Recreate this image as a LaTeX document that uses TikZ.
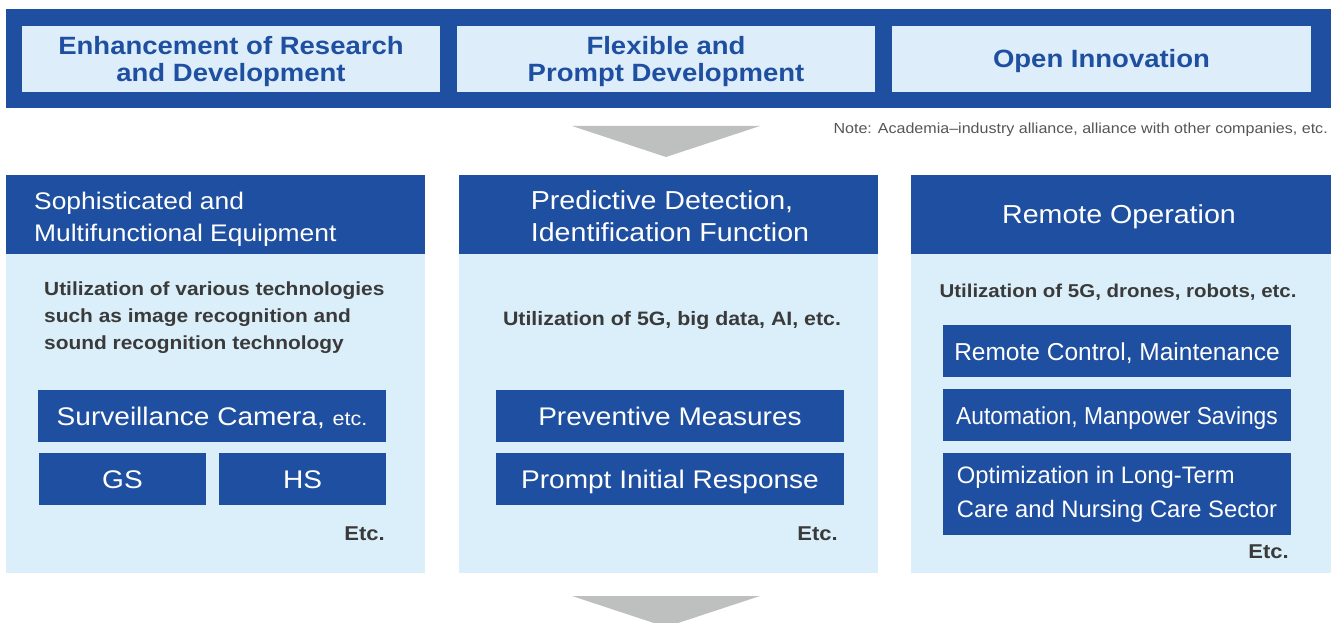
\documentclass[tikz,border=0pt]{standalone}
\usepackage{fontspec}
\setmainfont{Liberation Sans}[FakeStretch=1.1]
\newfontfamily\plainsans{Liberation Sans}
\newfontfamily\condsans{Liberation Sans}[FakeStretch=0.93]
\definecolor{dblue}{HTML}{1F4FA0}
\definecolor{lblue}{HTML}{DAEFFA}
\definecolor{tlight}{HTML}{DDEEFA}
\definecolor{agray}{HTML}{BEBFBF}
\definecolor{tgray}{HTML}{3A3A3A}
\definecolor{ngray}{HTML}{555555}
\begin{document}
\begin{tikzpicture}[x=1pt,y=-1pt,
  rectnode/.style={inner sep=0pt, outer sep=0pt, anchor=north west, draw=none},
  titlebox/.style={rectnode, fill=tlight},
  titletxt/.style={inner sep=0pt, text=dblue, align=center,
    font=\bfseries\fontsize{25}{27}\selectfont},
  panel/.style={rectnode, fill=lblue},
  head/.style={rectnode, fill=dblue},
  headtxt/.style={inner sep=0pt, text=white, font=\fontsize{26}{32}\selectfont},
  bodytxt/.style={inner sep=0pt, text=tgray, font=\bfseries\fontsize{19}{27}\selectfont},
  itembox/.style={rectnode, fill=dblue, text=white, align=center,
    font=\fontsize{25.5}{33}\selectfont},
  oneline/.style={text height=18.5pt, text depth=0pt},
  ritembox/.style={itembox, font=\plainsans\fontsize{24.5}{34}\selectfont},
  etctxt/.style={inner sep=0pt, text=tgray, anchor=base east, font=\bfseries\fontsize{20}{22}\selectfont},
  arrowfill/.style={fill=agray}
]
\useasboundingbox (0,0) rectangle (1338,623);
% top band
\node[head, minimum width=1325pt, minimum height=99pt] (band) at (6,9) {};
\node[titlebox, minimum width=418pt, minimum height=66pt] (t1) at (22,26) {};
\node[titlebox, minimum width=418pt, minimum height=66pt] (t2) at (457,26) {};
\node[titlebox, minimum width=419pt, minimum height=66pt] (t3) at (892,26) {};
\node[titletxt] (t1t) at ([yshift=-2.5pt]t1.center) {Enhancement of Research\\and Development};
\node[titletxt] (t2t) at ([yshift=-2.5pt]t2.center) {Flexible and\\Prompt Development};
\node[titletxt] (t3t) at ([yshift=-2pt]t3.center) {Open Innovation};
% arrow and note
\fill[arrowfill] (572,126) -- (760,126) -- (666,157) -- cycle;
\node[inner sep=0pt, anchor=base east, text=ngray, font=\fontsize{14.6}{16}\selectfont] (note) at (1328,134) {Note: Academia–industry alliance, alliance with other companies, etc.};
% panels
\node[panel, minimum width=419pt, minimum height=398pt] (p1) at (6,175) {};
\node[panel, minimum width=419pt, minimum height=398pt] (p2) at (459,175) {};
\node[panel, minimum width=420pt, minimum height=398pt] (p3) at (911,175) {};
\node[head, minimum width=419pt, minimum height=79pt] (h1) at (6,175) {};
\node[head, minimum width=419pt, minimum height=79pt] (h2) at (459,175) {};
\node[head, minimum width=420pt, minimum height=79pt] (h3) at (911,175) {};
\node[headtxt, anchor=west, align=left, font=\fontsize{24}{32}\selectfont] (h1t) at (34,219) {Sophisticated and\\Multifunctional Equipment};
\node[headtxt, anchor=center, align=left] (h2t) at (670,216) {Predictive Detection,\\Identification Function};
\node[headtxt, anchor=center] (h3t) at (1119,217) {Remote Operation};
% body texts
\node[bodytxt, anchor=west, align=left] (b1) at (44,318) {Utilization of various technologies\\such as image recognition and\\sound recognition technology};
\node[bodytxt, anchor=base, font=\bfseries\fontsize{19.4}{27}\selectfont] (b2) at (672,325) {Utilization of 5G, big data, AI, etc.};
\node[bodytxt, anchor=base, font=\bfseries\fontsize{18.6}{27}\selectfont] (b3) at (1118,297) {Utilization of 5G, drones, robots, etc.};
% left boxes
\node[itembox, oneline, minimum width=348pt, minimum height=52pt] (sc) at (38,390) {Surveillance Camera, {\fontsize{19.5}{22}\selectfont etc.}};
\node[itembox, oneline, minimum width=167pt, minimum height=52pt] (gs) at (39,453) {GS};
\node[itembox, oneline, minimum width=167pt, minimum height=52pt] (hs) at (219,453) {HS};
\node[etctxt] (e1) at (385,540) {Etc.};
% middle boxes
\node[itembox, oneline, minimum width=348pt, minimum height=52pt] (pm) at (496,390) {Preventive Measures};
\node[itembox, oneline, minimum width=348pt, minimum height=52pt] (pr) at (496,453) {Prompt Initial Response};
\node[etctxt] (e2) at (838,540) {Etc.};
% right boxes
\node[ritembox, oneline, minimum width=348pt, minimum height=52pt] (rc) at (943,325) {Remote Control, Maintenance};
\node[ritembox, oneline, minimum width=348pt, minimum height=52pt, font=\condsans\fontsize{24.5}{34}\selectfont] (am) at (943,389) {Automation, Manpower Savings};
\node[ritembox, minimum width=348pt, minimum height=82pt, align=left, font=\plainsans\fontsize{23.8}{34}\selectfont] (op) at (943,453) {Optimization in Long-Term\\Care and Nursing Care Sector};
\node[etctxt] (e3) at (1289,558) {Etc.};
% bottom arrow
\fill[arrowfill] (572,596) -- (760,596) -- (666,627) -- cycle;
\end{tikzpicture}
\end{document}
